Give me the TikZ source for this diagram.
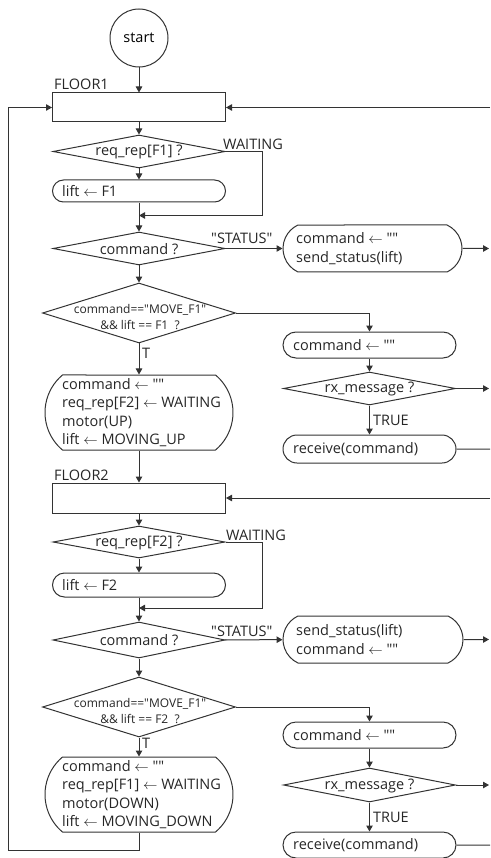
\documentclass[tikz,border=0pt]{standalone}
\usepackage{fontspec}
\setmainfont{Open Sans}[Ligatures=TeXOff]
\usetikzlibrary{shapes.geometric,shapes.misc,arrows.meta}
\newcommand\lar{$\leftarrow$}
\definecolor{ink}{HTML}{333333}
\tikzset{
  line/.style={draw=ink, line width=1pt},
  arr/.style={line, -{Triangle[length=6pt,width=6.5pt]}},
  txt/.style={font=\fontsize{14.5}{18.3}\selectfont, text=black!85, inner sep=0pt},
  small/.style={font=\fontsize{12}{16}\selectfont, text=black!85, inner sep=0pt},
  plainbox/.style={line, rectangle, inner sep=0pt},
  proc/.style={line, rounded rectangle, inner sep=0pt},
  dec/.style={line, diamond, inner sep=0pt},
  term/.style={line, circle, minimum size=58pt, inner sep=0pt, font=\fontsize{14.5}{16}\selectfont},
}
\begin{document}
\begin{tikzpicture}[x=1pt,y=-1pt]
\useasboundingbox (0,0) rectangle (490,858);

% ---------- first floor block ----------
\node[term] (start) at (139,38) {start};
\node[plainbox, minimum width=173pt, minimum height=29pt] (f1) at (139,107.5) {};
\node[txt, anchor=base west] (f1lbl) at (54,90) {FLOOR1};
\node[dec, minimum width=172pt, minimum height=33pt] (d1) at (139,151.5) {};
\node[txt] (d1t) at (139,152) {req\_rep[F1] ?};
\node[proc, minimum width=173pt, minimum height=22pt] (l1) at (139,191) {};
\node[txt, anchor=west] (l1t) at (62,191) {lift \lar{} F1};
\node[dec, minimum width=172pt, minimum height=33pt] (d2) at (139,248.5) {};
\node[txt] (d2t) at (139,249) {command ?};
\node[proc, rounded rectangle arc length=130, minimum width=179pt, minimum height=47pt] (s1) at (372.5,248.5) {};
\node[txt, anchor=west, align=left] (s1t) at (296,248.5) {command \lar{} ""\\send\_status(lift)};
\node[dec, minimum width=193pt, minimum height=60pt] (d3) at (139,313) {};
\node[small, align=center] (d3t) at (140,317) {command=="MOVE\_F1"\\\&\& lift == F1\ \ ?};
\node[proc, minimum width=173pt, minimum height=26pt] (b1) at (369.5,345) {};
\node[txt, anchor=west] (b1t) at (293,345) {command \lar{} ""};
\node[proc, rounded rectangle arc length=100, minimum width=188pt, minimum height=75pt] (B1) at (139,412.5) {};
\node[txt, anchor=west, align=left] (B1t) at (62,412.5) {command \lar{} ""\\req\_rep[F2] \lar{} WAITING\\motor(UP)\\lift \lar{} MOVING\_UP};
\node[dec, minimum width=172pt, minimum height=33pt] (r1) at (369.5,388.5) {};
\node[txt] (r1t) at (369.5,389) {rx\_message ?};
\node[proc, minimum width=173pt, minimum height=28pt] (rc1) at (369.5,449) {};
\node[txt, anchor=west] (rc1t) at (293,449) {receive(command)};

% ---------- second floor block ----------
\node[plainbox, minimum width=173pt, minimum height=30pt] (f2) at (139,498) {};
\node[txt, anchor=base west] (f2lbl) at (54,480) {FLOOR2};
\node[dec, minimum width=172pt, minimum height=32pt] (d4) at (139,542) {};
\node[txt] (d4t) at (139,542.5) {req\_rep[F2] ?};
\node[proc, minimum width=173pt, minimum height=24pt] (l2) at (139,585) {};
\node[txt, anchor=west] (l2t) at (62,585) {lift \lar{} F2};
\node[dec, minimum width=172pt, minimum height=36pt] (d5) at (139,640) {};
\node[txt] (d5t) at (139,640.5) {command ?};
\node[proc, rounded rectangle arc length=130, minimum width=180pt, minimum height=47pt] (s2) at (373,639.5) {};
\node[txt, anchor=west, align=left] (s2t) at (296,639.5) {send\_status(lift)\\command \lar{} ""};
\node[dec, minimum width=193pt, minimum height=60pt] (d6) at (139,707) {};
\node[small, align=center] (d6t) at (140,711) {command=="MOVE\_F1"\\\&\& lift == F2\ \ ?};
\node[proc, minimum width=173pt, minimum height=26pt] (b2) at (369.5,735) {};
\node[txt, anchor=west] (b2t) at (293,735) {command \lar{} ""};
\node[proc, rounded rectangle arc length=100, minimum width=188pt, minimum height=75pt] (B2) at (139,794.5) {};
\node[txt, anchor=west, align=left] (B2t) at (62,794.5) {command \lar{} ""\\req\_rep[F1] \lar{} WAITING\\motor(DOWN)\\lift \lar{} MOVING\_DOWN};
\node[dec, minimum width=172pt, minimum height=34pt] (r2) at (369.5,785) {};
\node[txt] (r2t) at (369.5,785.5) {rx\_message ?};
\node[proc, minimum width=173pt, minimum height=26pt] (rc2) at (369.5,845) {};
\node[txt, anchor=west] (rc2t) at (293,845) {receive(command)};

% ---------- branch labels ----------
\node[txt, anchor=base west] (w1lbl) at (223,150) {WAITING};
\node[txt, anchor=base west] (st1lbl) at (211,244) {"STATUS"};
\node[txt, anchor=base west] (t1lbl) at (142,358) {T};
\node[txt, anchor=base west] (tr1lbl) at (373,425) {TRUE};
\node[txt, anchor=base west] (w2lbl) at (226,540) {WAITING};
\node[txt, anchor=base west] (st2lbl) at (211,636) {"STATUS"};
\node[txt, anchor=base west] (t2lbl) at (142,748) {T};
\node[txt, anchor=base west] (tr2lbl) at (373,822) {TRUE};

% ---------- helper points ----------
\coordinate (w1) at (262,215.5);
\coordinate (m1) at (139,215.5);
\coordinate (w2) at (262,608);
\coordinate (m2) at (139,608);
\coordinate (in1) at (490,107.5);
\coordinate (in2) at (490,498);
\coordinate (o1) at (489,248.5);
\coordinate (o2) at (489,388.5);
\coordinate (o3) at (490,449);
\coordinate (o4) at (489,639.5);
\coordinate (o5) at (489,785);
\coordinate (o6) at (490,845);
\coordinate (lp) at (8,850);

% ---------- connectors: first floor ----------
\draw[arr] (start) -- (f1);
\draw[arr] (in1) -- (f1.east);
\draw[arr] (f1) -- (d1);
\draw[arr] (d1) -- (l1);
\draw[arr] (d1.east) -| (w1) -- (m1);
\draw[arr] (l1) -- (d2);
\draw[arr] (d2) -- (s1);
\draw[arr] (s1) -- (o1);
\draw[arr] (d2) -- (d3);
\draw[arr] (d3.east) -| (b1.north);
\draw[arr] (d3) -- (B1);
\draw[arr] (b1) -- (r1);
\draw[arr] (r1) -- (o2);
\draw[arr] (r1) -- (rc1);
\draw[line] (rc1) -- (o3);
\draw[arr] (B1) -- (f2);

% ---------- connectors: second floor ----------
\draw[arr] (in2) -- (f2.east);
\draw[arr] (f2) -- (d4);
\draw[arr] (d4) -- (l2);
\draw[arr] (d4.east) -| (w2) -- (m2);
\draw[arr] (l2) -- (d5);
\draw[arr] (d5) -- (s2);
\draw[arr] (s2) -- (o4);
\draw[arr] (d5) -- (d6);
\draw[arr] (d6.east) -| (b2.north);
\draw[arr] (d6) -- (B2);
\draw[arr] (b2) -- (r2);
\draw[arr] (r2) -- (o5);
\draw[arr] (r2) -- (rc2);
\draw[line] (rc2) -- (o6);

% ---------- loop back to the first floor ----------
\draw[arr] (B2.south) |- (lp) |- (f1.west);
\end{tikzpicture}
\end{document}
